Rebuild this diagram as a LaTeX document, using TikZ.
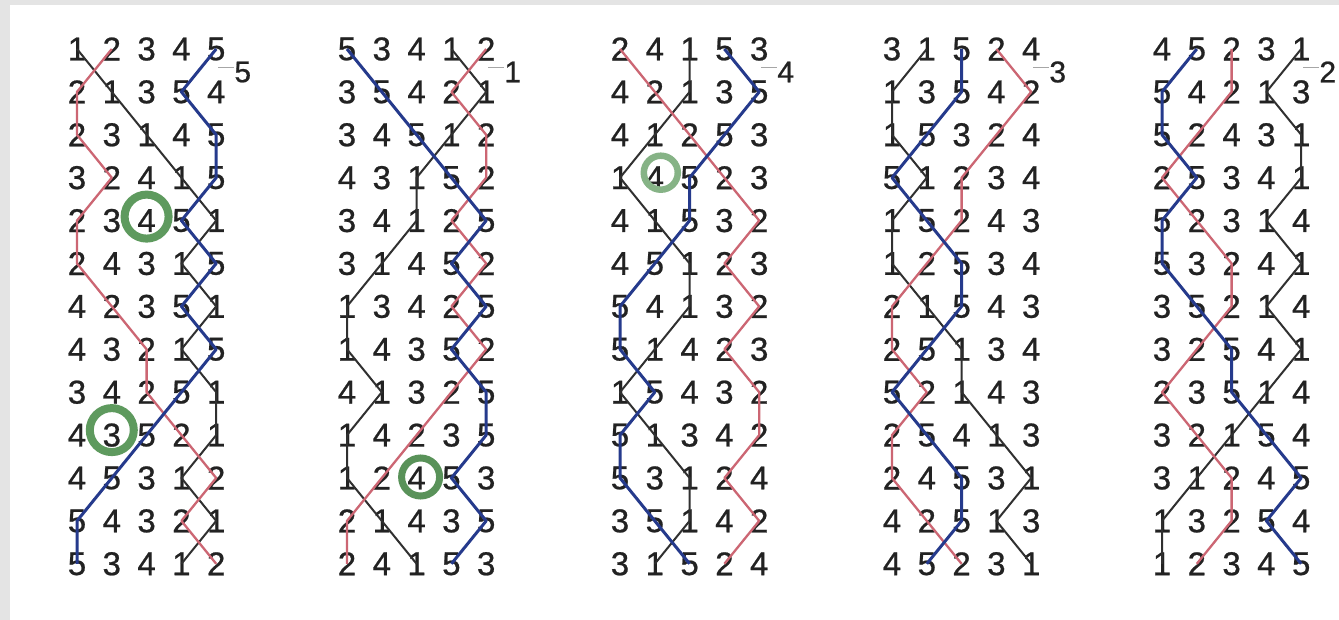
\documentclass[tikz,border=0pt]{standalone}
\usepackage{fontspec}
\setmainfont{Liberation Sans}
\newfontfamily\digf[FakeBold=0.7]{Liberation Sans}
\definecolor{digc}{HTML}{222222}
\definecolor{blk}{HTML}{303030}
\definecolor{redl}{HTML}{CC6673}
\definecolor{bluel}{HTML}{253A8C}
\definecolor{ringc}{HTML}{5E9A5E}
\definecolor{framec}{HTML}{E4E4E4}
\tikzset{
 dig/.style={inner sep=0pt, text=digc, font=\digf\fontsize{33}{33}\selectfont},
 lab/.style={inner sep=0pt, text=digc, font=\digf\fontsize{30}{30}\selectfont},
 tick/.style={draw=gray!70, line width=1pt},
 line1/.style={draw=blk, line width=2pt, line join=round},
 line2/.style={draw=redl, line width=2.3pt, line join=round},
 line5/.style={draw=bluel, line width=3pt, line join=round},
 ring/.style={draw=ringc, line width=8pt},
}
\newcommand\mypanel[4]{%
  \foreach \row [count=\ri] in {#4}{
    \foreach \d [count=\ci] in \row{
      \node[dig] (p#1-\ri-\d) at ({#2+(\ci-1)*34.8},{49+(\ri-1)*42.9}) {\d};
    }
  }
  \coordinate (tk#1) at ({#2+4*34.8+2},68);
  \node[lab,anchor=west] (lab#1) at ({#2+4*34.8+18},72) {#3};
  \draw[tick] (tk#1) -- (tk#1 -| lab#1.west);
}
\begin{document}
\begin{tikzpicture}[x=1pt,y=-1pt]
\useasboundingbox (0,0) rectangle (1339,620);
\fill[framec] (0,0) rectangle (1339,620);
\fill[white] (10,5) rectangle (1339,620);
\mypanel{1}{77}{5}{{1,2,3,4,5},{2,1,3,5,4},{2,3,1,4,5},{3,2,4,1,5},{2,3,4,5,1},{2,4,3,1,5},{4,2,3,5,1},{4,3,2,1,5},{3,4,2,5,1},{4,3,5,2,1},{4,5,3,1,2},{5,4,3,2,1},{5,3,4,1,2}}
\mypanel{2}{347}{1}{{5,3,4,1,2},{3,5,4,2,1},{3,4,5,1,2},{4,3,1,5,2},{3,4,1,2,5},{3,1,4,5,2},{1,3,4,2,5},{1,4,3,5,2},{4,1,3,2,5},{1,4,2,3,5},{1,2,4,5,3},{2,1,4,3,5},{2,4,1,5,3}}
\mypanel{3}{620}{4}{{2,4,1,5,3},{4,2,1,3,5},{4,1,2,5,3},{1,4,5,2,3},{4,1,5,3,2},{4,5,1,2,3},{5,4,1,3,2},{5,1,4,2,3},{1,5,4,3,2},{5,1,3,4,2},{5,3,1,2,4},{3,5,1,4,2},{3,1,5,2,4}}
\mypanel{4}{892}{3}{{3,1,5,2,4},{1,3,5,4,2},{1,5,3,2,4},{5,1,2,3,4},{1,5,2,4,3},{1,2,5,3,4},{2,1,5,4,3},{2,5,1,3,4},{5,2,1,4,3},{2,5,4,1,3},{2,4,5,3,1},{4,2,5,1,3},{4,5,2,3,1}}
\mypanel{5}{1162}{2}{{4,5,2,3,1},{5,4,2,1,3},{5,2,4,3,1},{2,5,3,4,1},{5,2,3,1,4},{5,3,2,4,1},{3,5,2,1,4},{3,2,5,4,1},{2,3,5,1,4},{3,2,1,5,4},{3,1,2,4,5},{1,3,2,5,4},{1,2,3,4,5}}
\foreach \p in {1,...,5}{
  \foreach \d/\st in {1/line1,2/line2,5/line5}{
    \draw[\st] (p\p-1-\d.center) \foreach \i in {2,...,13}{ -- (p\p-\i-\d.center)};
  }
}
\draw[ring] ([yshift=4pt]p1-5-4.center) circle[radius=22pt];
\draw[ring] ([yshift=5pt]p1-10-3.center) circle[radius=22pt];
\draw[ring, line width=7pt, draw=ringc!95!black] ([xshift=4pt,yshift=1pt]p2-11-4.center) circle[radius=19pt];
\draw[ring, line width=6.5pt, draw=ringc!75] ([xshift=6pt,yshift=5pt]p3-4-4.center) circle[radius=17pt];
\end{tikzpicture}
\end{document}
